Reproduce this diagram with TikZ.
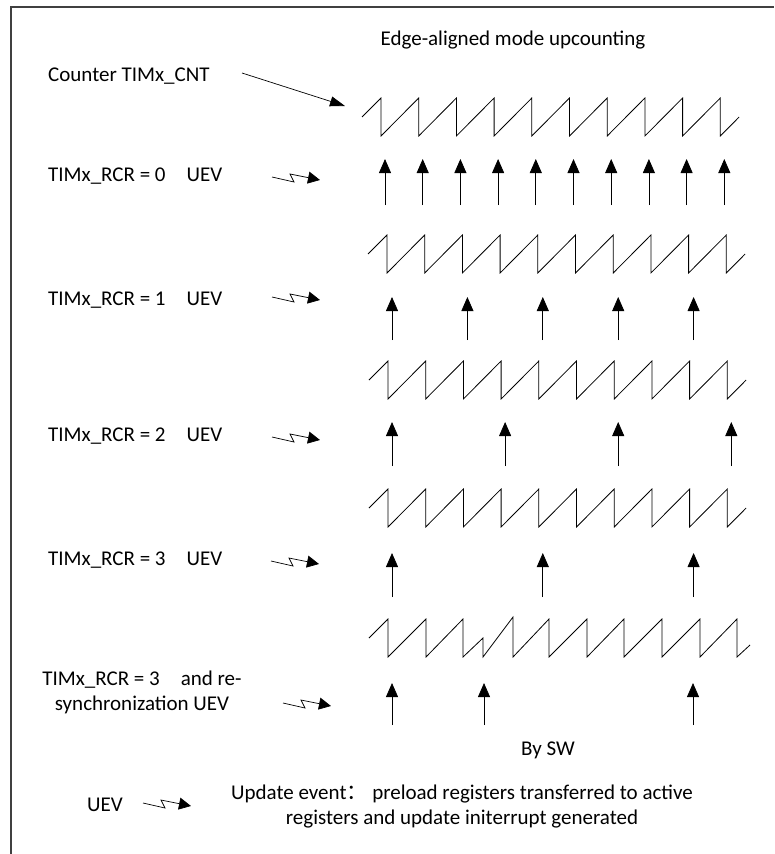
\documentclass[tikz,border=0pt]{standalone}
\usepackage{fontspec}
\setmainfont{Carlito}
\newfontfamily\cjk{Noto Sans CJK SC}
\usetikzlibrary{arrows.meta}

\begin{document}
\begin{tikzpicture}[
        x=1pt, y=-1pt,
        >={Triangle[length=14pt, width=12pt]},
        lbl/.style={font=\fontsize{21}{25}\selectfont, inner sep=0pt},
        wave/.style={line width=0.8pt, line join=miter},
        uev/.style={->, line width=0.8pt},
        bolt/.style={-{Triangle[length=12pt, width=12pt]}, line width=0.7pt},
        frame/.style={line width=1.2pt, draw=black!75},
    ]
        \useasboundingbox (0,0) rectangle (774,854);
        \draw[frame] (11,854) |- (774,7);

        % title and counter
        \node[lbl] (title) at (513,40) {Edge-aligned mode upcounting};
        \node[lbl, anchor=west] (cnt) at (48,76) {Counter TIMx\_CNT};
        \coordinate (cnttail) at (242,73);
        \coordinate (cnthead) at (345,106);
        \draw[-{Triangle[length=15pt, width=10pt]}, line width=0.7pt] (cnttail) -- (cnthead);

        % counter waves (rows 0..3 are regular)
        \foreach \py/\sx in {98/362, 235/368, 361/369, 489/369} {
            \draw[wave] (\sx,\py+19) -- ++(19,-19)
                foreach \k in {1,...,9} {-- ++(0,38) -- ++(37.7,-38)}
                -- ++(0,38) -- ++(18.85,-19);
        }
        % row 4: counter reset by software
        \draw[wave] (369,638) -- (388,619) -- (388,657) -- (426,619) -- (426,657)
            -- (463,619) -- (463,657) -- (483,638) -- (483,657) -- (513,617)
            -- (513,657) -- (549,619) -- (549,657) -- (587,619) -- (587,657)
            -- (624,619) -- (624,657) -- (662,619) -- (662,657) -- (700,619)
            -- (700,657) -- (737,619) -- (737,657) -- (750,645);

        % update events
        \foreach \k in {0,...,9}
            \draw[uev] ({385+37.7*\k},205) -- ++(0,-46);
        \foreach \k in {0,...,4}
            \draw[uev] ({392+75.4*\k},340) -- ++(0,-43);
        \foreach \k in {0,...,3}
            \draw[uev] ({392+113.1*\k},466) -- ++(0,-44);
        \foreach \k in {0,...,2}
            \draw[uev] ({392+150.8*\k},597) -- ++(0,-44);
        \foreach \x in {392,484,693}
            \draw[uev] (\x,725) -- ++(0,-42);

        % row labels
        \node[lbl, anchor=west] (rcr0) at (48,176) {TIMx\_RCR = 0\quad UEV};
        \node[lbl, anchor=west] (rcr1) at (48,300) {TIMx\_RCR = 1\quad UEV};
        \node[lbl, anchor=west] (rcr2) at (48,436) {TIMx\_RCR = 2\quad UEV};
        \node[lbl, anchor=west] (rcr3) at (48,560) {TIMx\_RCR = 3\quad UEV};
        \node[lbl, align=center] (rcr4) at (142,692)
            {TIMx\_RCR = 3\quad and re-\\synchronization UEV};

        % lightning marks
        \foreach \bx/\by [count=\i] in {272/177, 272/297, 272/437, 271/561, 283/703, 143/803} {
            \coordinate (z\i) at (\bx,\by);
            \draw[bolt] (z\i) -- ++(22,5) -- ++(-4,-8) -- ++(30,6);
        }

        % legend
        \node[lbl] (sw) at (548,750) {By SW};
        \node[lbl] (key) at (105,805) {UEV};
        \node[lbl, align=center] (desc) at (462,807)
            {Update event{\cjk ：} preload registers transferred to active\\registers and update initerrupt generated};
    \end{tikzpicture}
\end{document}
